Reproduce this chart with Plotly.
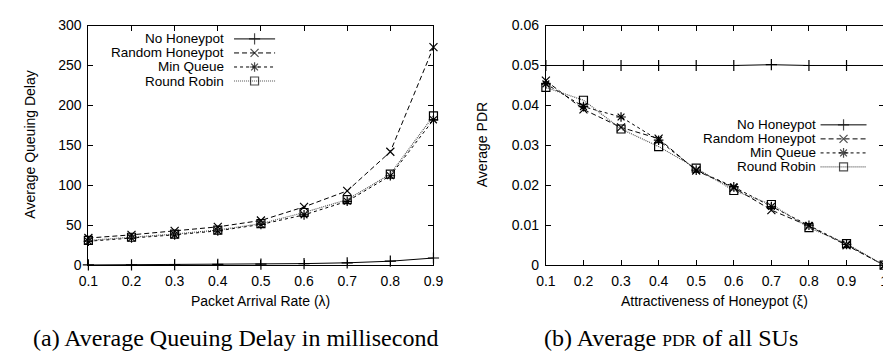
import plotly.graph_objects as go

# ---------------- data ----------------
arrival_rate = [0.1, 0.2, 0.3, 0.4, 0.5, 0.6, 0.7, 0.8, 0.9]
delay_no_honeypot = [0.3, 0.5, 0.7, 1.0, 1.4, 2.0, 3.0, 5.0, 9.0]
delay_random_honeypot = [34, 38, 43, 48, 56, 73, 93, 142, 273]
delay_min_queue = [30, 34, 38, 43, 51, 63, 80, 112, 182]
delay_round_robin = [31, 35, 39, 44, 52, 66, 82, 114, 187]

attractiveness = [0.1, 0.2, 0.3, 0.4, 0.5, 0.6, 0.7, 0.8, 0.9, 1.0]
pdr_no_honeypot = [0.05, 0.05, 0.05, 0.05, 0.05, 0.05, 0.0502, 0.05, 0.05, 0.05]
pdr_random_honeypot = [0.0462, 0.0390, 0.0345, 0.0317, 0.0237, 0.0194, 0.0138, 0.0098, 0.0050, 0.0]
pdr_min_queue = [0.0454, 0.0397, 0.0371, 0.0313, 0.0238, 0.0196, 0.0147, 0.0100, 0.0052, 0.0]
pdr_round_robin = [0.0445, 0.0413, 0.0341, 0.0297, 0.0243, 0.0187, 0.0152, 0.0094, 0.0054, 0.0]

series_names = ["No Honeypot", "Random Honeypot", "Min Queue", "Round Robin"]
left_ticks_x = [0.1, 0.2, 0.3, 0.4, 0.5, 0.6, 0.7, 0.8, 0.9]
right_ticks_x = [0.1, 0.2, 0.3, 0.4, 0.5, 0.6, 0.7, 0.8, 0.9, 1.0]
right_tick_text_x = ["0.1", "0.2", "0.3", "0.4", "0.5", "0.6", "0.7", "0.8", "0.9", "1"]

# ---------------- styles ----------------
W, H = 891, 354
FONT = "Liberation Sans, Arial, sans-serif"
SERIF = "Liberation Serif, serif"
styles = [
    dict(color="black", dash="solid", symbol="cross-thin-open", size=8, lw=1),
    dict(color="black", dash="5px,3px", symbol="x-thin-open", size=8, lw=1),
    dict(color="black", dash="3px,3px", symbol="asterisk-open", size=8, lw=1),
    dict(color="#555555", dash="1px,1px", symbol="square-open", size=8, lw=1.2),
]

fig = go.Figure()

left_series = [delay_no_honeypot, delay_random_honeypot, delay_min_queue, delay_round_robin]
right_series = [pdr_no_honeypot, pdr_random_honeypot, pdr_min_queue, pdr_round_robin]

for name, ys, st in zip(series_names, left_series, styles):
    fig.add_trace(go.Scatter(
        x=arrival_rate, y=ys, name=name, mode="lines+markers",
        line=dict(color=st["color"], dash=st["dash"], width=st["lw"]),
        marker=dict(symbol=st["symbol"], size=st["size"], color="black",
                    line=dict(color="black", width=1.2)),
        cliponaxis=False, showlegend=False, xaxis="x", yaxis="y"))

for name, ys, st in zip(series_names, right_series, styles):
    fig.add_trace(go.Scatter(
        x=attractiveness, y=ys, name=name, mode="lines+markers",
        line=dict(color=st["color"], dash=st["dash"], width=st["lw"]),
        marker=dict(symbol=st["symbol"], size=st["size"], color="black",
                    line=dict(color="black", width=1.2)),
        cliponaxis=False, showlegend=False, xaxis="x2", yaxis="y2"))

# ---------------- custom gnuplot-style keys (text, then sample) ----------------
legend_specs = [
    dict(text_right=212, x0=221, x1=263, rows=[24, 38.7, 53.4, 68.1]),
    dict(text_right=817, x0=821, x1=868, rows=[114, 128.7, 143.4, 158.1]),
]
annotations = []
for spec in legend_specs:
    for name, st, ry in zip(series_names, styles, spec["rows"]):
        xm = (spec["x0"] + spec["x1"]) / 2
        fig.add_trace(go.Scatter(
            x=[spec["x0"], xm, spec["x1"]], y=[ry, ry, ry], mode="lines+markers",
            line=dict(color=st["color"], dash=st["dash"], width=st["lw"]),
            marker=dict(symbol=st["symbol"], size=[0, st["size"], 0], color="black",
                        line=dict(color="black", width=1.2)),
            showlegend=False, hoverinfo="skip", xaxis="x3", yaxis="y3"))
        annotations.append(dict(
            text=name, xref="paper", yref="paper", x=spec["text_right"] / W,
            y=1 - ry / H, xanchor="right", yanchor="middle", showarrow=False,
            borderpad=0, font=dict(family=FONT, size=13.5, color="black")))

# axis titles and captions
annotations += [
    dict(text="Average Queuing Delay", textangle=-90, xref="paper", yref="paper",
         x=12 / W, y=1 - 135 / H, xanchor="center", yanchor="middle", showarrow=False,
         font=dict(family=FONT, size=14, color="black")),
    dict(text="Average PDR", textangle=-90, xref="paper", yref="paper",
         x=475 / W, y=1 - 135 / H, xanchor="center", yanchor="middle", showarrow=False,
         font=dict(family=FONT, size=14, color="black")),
    dict(text="Packet Arrival Rate (λ)", xref="paper", yref="paper",
         x=248 / W, y=1 - 298 / H, xanchor="center", yanchor="middle", showarrow=False,
         font=dict(family=FONT, size=14, color="black")),
    dict(text="Attractiveness of Honeypot (ξ)", xref="paper", yref="paper",
         x=713 / W, y=1 - 298 / H, xanchor="center", yanchor="middle", showarrow=False,
         font=dict(family=FONT, size=14, color="black")),
    dict(text="(a) Average Queuing Delay in millisecond", xref="paper", yref="paper",
         x=222 / W, y=1 - 352 / H, xanchor="center", yanchor="bottom", showarrow=False,
         borderpad=0, font=dict(family=SERIF, size=24, color="black")),
    dict(text="(b) Average <span style='font-size:17.5px'>PDR</span> of all SUs",
         xref="paper", yref="paper",
         x=668 / W, y=1 - 352 / H, xanchor="center", yanchor="bottom", showarrow=False,
         borderpad=0, font=dict(family=SERIF, size=24, color="black")),
]

axis_common = dict(showline=True, linecolor="black", linewidth=1, mirror="ticks",
                   ticks="inside", ticklen=5, tickcolor="black", tickwidth=1,
                   showgrid=False, zeroline=False, ticklabelstandoff=3,
                   tickfont=dict(family=FONT, size=14, color="black"))

fig.update_layout(
    width=W, height=H, margin=dict(l=0, r=0, t=0, b=0),
    paper_bgcolor="white", plot_bgcolor="rgba(0,0,0,0)", showlegend=False,
    xaxis=dict(domain=[72 / W, 425 / W], range=[0.1, 0.9], tickvals=left_ticks_x,
               anchor="y", **axis_common),
    yaxis=dict(domain=[1 - 261 / H, 1 - 10 / H], range=[0, 300], dtick=50,
               anchor="x", **axis_common),
    xaxis2=dict(domain=[540 / W, 886 / W], range=[0.1, 1.0], tickvals=right_ticks_x,
                ticktext=right_tick_text_x, anchor="y2", **axis_common),
    yaxis2=dict(domain=[1 - 261 / H, 1 - 10 / H], range=[0, 0.06], dtick=0.01,
                anchor="x2", **axis_common),
    xaxis3=dict(domain=[0, 1], range=[0, W], visible=False, fixedrange=True, anchor="y3"),
    yaxis3=dict(domain=[0, 1], range=[H, 0], visible=False, fixedrange=True, anchor="x3"),
    annotations=annotations,
)

fig.write_html("out.html")
